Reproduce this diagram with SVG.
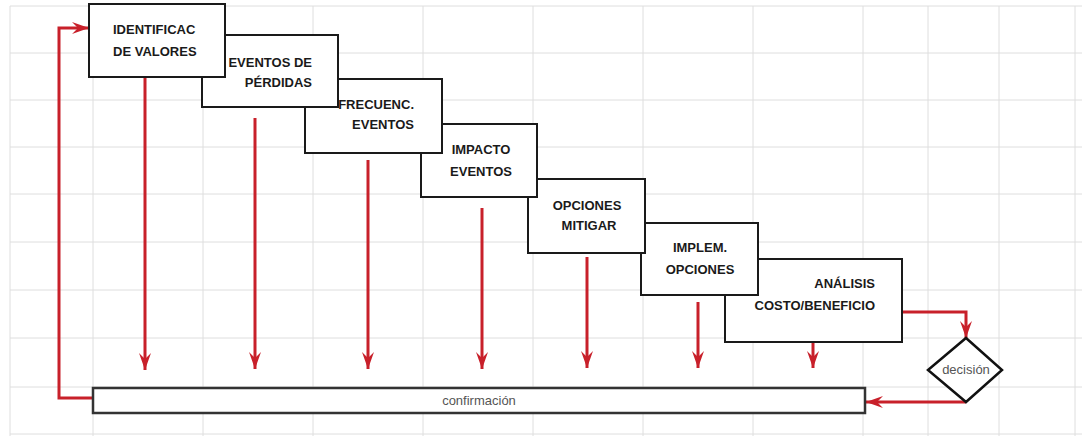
<svg xmlns="http://www.w3.org/2000/svg" width="1082" height="436" viewBox="0 0 1082 436">
<defs>
<marker id="arr" markerUnits="userSpaceOnUse" markerWidth="18" markerHeight="14" viewBox="0 0 18 14" refX="17" refY="7" orient="auto">
<path d="M0,1 L17,7 L0,13 L6,7 Z" fill="#c8202a"/>
</marker>
<style>
.grid line{stroke:#dedede;stroke-width:1}
.box{fill:#fff;stroke:#1a1a1a;stroke-width:2}
.lbl{font-family:"Liberation Sans",Arial,sans-serif;font-weight:bold;font-size:13px;fill:#1a1a1a}
.con{fill:none;stroke:#c8202a;stroke-width:3}
.thin{font-family:"Liberation Sans",Arial,sans-serif;font-size:13px;fill:#555}
</style>
</defs>
<rect x="0" y="0" width="1082" height="436" fill="#fff"/>
<g class="grid">
<line x1="10" y1="6" x2="1082" y2="6"/>
<line x1="10" y1="53" x2="1082" y2="53"/>
<line x1="10" y1="100" x2="1082" y2="100"/>
<line x1="10" y1="147" x2="1082" y2="147"/>
<line x1="10" y1="194" x2="1082" y2="194"/>
<line x1="10" y1="242" x2="1082" y2="242"/>
<line x1="10" y1="290" x2="1082" y2="290"/>
<line x1="10" y1="338" x2="1082" y2="338"/>
<line x1="10" y1="387" x2="1082" y2="387"/>
<line x1="10" y1="434" x2="1082" y2="434"/>
<line x1="10" y1="6" x2="10" y2="436"/>
<line x1="93" y1="6" x2="93" y2="436"/>
<line x1="203" y1="6" x2="203" y2="436"/>
<line x1="313" y1="6" x2="313" y2="436"/>
<line x1="423" y1="6" x2="423" y2="436"/>
<line x1="533" y1="6" x2="533" y2="436"/>
<line x1="643" y1="6" x2="643" y2="436"/>
<line x1="753" y1="6" x2="753" y2="436"/>
<line x1="863" y1="6" x2="863" y2="436"/>
<line x1="928" y1="6" x2="928" y2="436"/>
<line x1="999" y1="6" x2="999" y2="436"/>
<line x1="1075" y1="6" x2="1075" y2="436"/>
</g>
<g id="connectors">
<path class="con" d="M145,77 V370" marker-end="url(#arr)"/>
<path class="con" d="M255,118 V369" marker-end="url(#arr)"/>
<path class="con" d="M368,160 V369" marker-end="url(#arr)"/>
<path class="con" d="M482,208 V369" marker-end="url(#arr)"/>
<path class="con" d="M587,257 V368" marker-end="url(#arr)"/>
<path class="con" d="M698,302 V368" marker-end="url(#arr)"/>
<path class="con" d="M813,343 V368" marker-end="url(#arr)"/>
<path class="con" d="M93,398 H59 V28 H89" marker-end="url(#arr)"/>
<path class="con" d="M902,312 H966 V338" marker-end="url(#arr)"/>
<path class="con" d="M966,402 H866" marker-end="url(#arr)"/>
</g>
<g id="node-analisis">
<rect class="box" x="725" y="259" width="177" height="83"/>
<text class="lbl" x="875" y="288" text-anchor="end">ANÁLISIS</text>
<text class="lbl" x="875" y="310" text-anchor="end">COSTO/BENEFICIO</text>
</g>
<g id="node-implem">
<rect class="box" x="641" y="223" width="117" height="72"/>
<text class="lbl" x="700" y="252" text-anchor="middle">IMPLEM.</text>
<text class="lbl" x="700" y="274" text-anchor="middle">OPCIONES</text>
</g>
<g id="node-opciones">
<rect class="box" x="528" y="179" width="117" height="74"/>
<text class="lbl" x="587" y="210" text-anchor="middle">OPCIONES</text>
<text class="lbl" x="589" y="230" text-anchor="middle">MITIGAR</text>
</g>
<g id="node-impacto">
<rect class="box" x="421" y="124" width="116" height="73"/>
<text class="lbl" x="481" y="154" text-anchor="middle">IMPACTO</text>
<text class="lbl" x="481" y="176" text-anchor="middle">EVENTOS</text>
</g>
<g id="node-frecuenc">
<rect class="box" x="305" y="79" width="137" height="74"/>
<text class="lbl" x="414" y="109" text-anchor="end">FRECUENC.</text>
<text class="lbl" x="414" y="129" text-anchor="end">EVENTOS</text>
</g>
<g id="node-eventos">
<rect class="box" x="202" y="35" width="136" height="72"/>
<text class="lbl" x="312" y="67" text-anchor="end">EVENTOS DE</text>
<text class="lbl" x="312" y="87" text-anchor="end">PÉRDIDAS</text>
</g>
<g id="node-identificac">
<rect class="box" x="89" y="4" width="136" height="73"/>
<text class="lbl" x="113" y="34">IDENTIFICAC</text>
<text class="lbl" x="113" y="56">DE VALORES</text>
</g>
<g id="node-decision">
<polygon points="966,338 1002,370 966,402 928,370" fill="#fff" stroke="#111" stroke-width="2.5"/>
<text class="thin" x="966" y="374" text-anchor="middle" fill="#444">decisión</text>
</g>
<g id="node-confirmacion">
<rect x="93" y="388" width="772" height="25" fill="#fff" stroke="#333" stroke-width="2.5"/>
<text class="thin" x="479" y="405" text-anchor="middle">confirmación</text>
</g>
</svg>
